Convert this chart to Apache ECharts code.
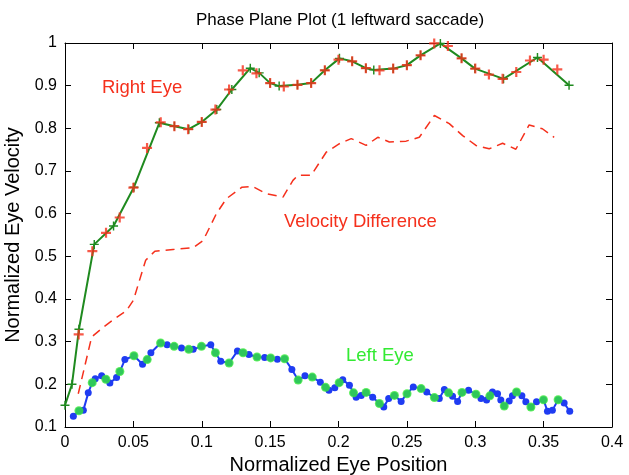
<!DOCTYPE html>
<html>
<head>
<meta charset="utf-8">
<script src="https://cdn.jsdelivr.net/npm/echarts@6/dist/echarts.min.js"></script>
<style>
  html, body { margin: 0; padding: 0; background: #fff; }
  #chart { width: 629px; height: 475px; }
</style>
</head>
<body>
<div id="chart"></div>
<script>
// Tick labels for both axes
const xTickLabels = ['0', '0.05', '0.1', '0.15', '0.2', '0.25', '0.3', '0.35', '0.4'];
const yTickLabels = ['0.1', '0.2', '0.3', '0.4', '0.5', '0.6', '0.7', '0.8', '0.9', '1'];

// Right eye: fused trace (green line with + markers), [position, velocity]
const rightEyeLine = [
  [0, 0.151], [0.0051, 0.200], [0.0102, 0.329], [0.0214, 0.528], [0.0355, 0.571],
  [0.0504, 0.662], [0.069, 0.813], [0.080, 0.805], [0.0905, 0.798], [0.100, 0.815],
  [0.111, 0.844], [0.122, 0.891], [0.1355, 0.941], [0.142, 0.930], [0.150, 0.906],
  [0.1566, 0.899], [0.170, 0.902], [0.180, 0.906], [0.190, 0.936], [0.2007, 0.964],
  [0.210, 0.957], [0.220, 0.941], [0.2258, 0.937], [0.240, 0.940], [0.250, 0.948],
  [0.260, 0.971], [0.2745, 0.999], [0.290, 0.964], [0.2998, 0.940], [0.3207, 0.916],
  [0.3455, 0.966], [0.3686, 0.901]
];

// Right eye samples (red + markers)
const rightEyeX = [
  0.01, 0.02, 0.03, 0.04, 0.05, 0.06, 0.07, 0.08, 0.09, 0.10, 0.11, 0.12,
  0.13, 0.14, 0.15, 0.16, 0.17, 0.18, 0.19, 0.20, 0.21, 0.22, 0.23, 0.24,
  0.25, 0.26, 0.27, 0.28, 0.29, 0.30, 0.31, 0.32, 0.33, 0.34, 0.35, 0.36
];
const rightEyeY = [
  0.317, 0.512, 0.555, 0.591, 0.661, 0.754, 0.814, 0.805, 0.798, 0.815, 0.844, 0.891,
  0.936, 0.929, 0.906, 0.898, 0.902, 0.906, 0.936, 0.961, 0.957, 0.941, 0.936, 0.940,
  0.948, 0.971, 0.999, 0.993, 0.964, 0.940, 0.926, 0.916, 0.932, 0.959, 0.961, 0.938
];

// Velocity difference (dashed red)
const velocityDiff = [
  [0.0097, 0.178], [0.0195, 0.311], [0.028, 0.334], [0.0365, 0.354], [0.045, 0.373],
  [0.050, 0.397], [0.059, 0.491], [0.0657, 0.512], [0.079, 0.516], [0.0937, 0.520],
  [0.101, 0.537], [0.1107, 0.600], [0.118, 0.635], [0.1294, 0.662], [0.137, 0.664],
  [0.1472, 0.647], [0.1594, 0.639], [0.1667, 0.678], [0.1703, 0.690], [0.180, 0.690],
  [0.191, 0.744], [0.2007, 0.764], [0.2093, 0.776], [0.2202, 0.760], [0.2287, 0.779],
  [0.2372, 0.768], [0.2494, 0.770], [0.2591, 0.779], [0.2701, 0.830], [0.281, 0.811],
  [0.2908, 0.783], [0.3005, 0.760], [0.3102, 0.752], [0.320, 0.765], [0.3297, 0.751],
  [0.3394, 0.808], [0.3491, 0.799], [0.3577, 0.779]
];

// Left eye trace (blue line with markers)
const leftEyeLine = [
  [0.0061, 0.125], [0.0102, 0.138], [0.0134, 0.139], [0.017, 0.180], [0.0199, 0.204],
  [0.0221, 0.213], [0.0268, 0.220], [0.0299, 0.212], [0.0328, 0.203], [0.0377, 0.216],
  [0.0401, 0.230], [0.0438, 0.258], [0.0504, 0.267], [0.0567, 0.247], [0.0601, 0.258],
  [0.0628, 0.274], [0.0699, 0.297], [0.0747, 0.293], [0.0798, 0.289], [0.0852, 0.285],
  [0.0905, 0.282], [0.0937, 0.282], [0.0998, 0.289], [0.1066, 0.293], [0.110, 0.274],
  [0.1139, 0.254], [0.120, 0.250], [0.1261, 0.278], [0.1302, 0.274], [0.1345, 0.270],
  [0.1404, 0.264], [0.146, 0.263], [0.1504, 0.262], [0.1553, 0.259], [0.1606, 0.260],
  [0.1659, 0.235], [0.1705, 0.210], [0.1755, 0.220], [0.1808, 0.217], [0.1867, 0.205],
  [0.1905, 0.193], [0.193, 0.186], [0.1973, 0.192], [0.2005, 0.204], [0.2031, 0.211],
  [0.208, 0.198], [0.211, 0.180], [0.2129, 0.170], [0.2166, 0.174], [0.2202, 0.181],
  [0.225, 0.170], [0.2299, 0.155], [0.2331, 0.147], [0.2367, 0.167], [0.2409, 0.174],
  [0.2458, 0.160], [0.2501, 0.178], [0.2547, 0.194], [0.2604, 0.190], [0.2645, 0.182],
  [0.2701, 0.169], [0.2737, 0.167], [0.2774, 0.188], [0.2805, 0.180], [0.2834, 0.172],
  [0.2871, 0.160], [0.2903, 0.181], [0.2951, 0.186], [0.3005, 0.177], [0.3042, 0.167],
  [0.3083, 0.163], [0.3107, 0.173], [0.3126, 0.182], [0.3163, 0.178], [0.3187, 0.163],
  [0.3212, 0.149], [0.3248, 0.161], [0.3272, 0.173], [0.3302, 0.182], [0.3341, 0.173],
  [0.337, 0.159], [0.3407, 0.147], [0.3448, 0.159], [0.3499, 0.164], [0.3528, 0.137],
  [0.3564, 0.139], [0.3606, 0.164], [0.365, 0.156], [0.3691, 0.137]
];

// Left eye samples highlighted in green (every 0.01 of position)
const leftEyeSamples = [
  [0.0102, 0.138], [0.0199, 0.204], [0.0299, 0.212], [0.0401, 0.230], [0.0504, 0.267],
  [0.0601, 0.258], [0.0699, 0.297], [0.0798, 0.289], [0.0905, 0.282], [0.0998, 0.289],
  [0.110, 0.274], [0.120, 0.250], [0.1302, 0.274], [0.1404, 0.264], [0.1504, 0.262],
  [0.1606, 0.260], [0.1705, 0.210], [0.1808, 0.217], [0.1905, 0.193], [0.2005, 0.204],
  [0.211, 0.180], [0.2202, 0.181], [0.2299, 0.155], [0.2409, 0.174], [0.2501, 0.178],
  [0.2604, 0.190], [0.2701, 0.169], [0.2805, 0.180], [0.2903, 0.181], [0.3005, 0.177],
  [0.3107, 0.173], [0.3212, 0.149], [0.3302, 0.182], [0.3407, 0.147], [0.3499, 0.164],
  [0.3606, 0.164]
];

const FONT = '"Liberation Sans", Arial, Helvetica, sans-serif';
const RED = '#f5301c';
const DARKGREEN = '#1f8a1f';
const LIGHTGREEN = '#33ea33';
const BLUE = '#1f3cf2';

const PLUS_THICK = 'path://M0,3.9H10V6.1H0Z M3.9,0H6.1V10H3.9Z';
const PLUS_THIN = 'path://M0,4.2H10V5.8H0Z M4.2,0H5.8V10H4.2Z';

const chart = echarts.init(document.getElementById('chart'), null, { renderer: 'canvas' });

const axisLine = { show: true, onZero: false, lineStyle: { color: '#000', width: 1 } };
const tickIn = { show: true, inside: true, length: 6, lineStyle: { color: '#000', width: 1 } };

chart.setOption({
  animation: false,
  backgroundColor: '#fff',
  grid: { left: 65, right: 17, top: 43, bottom: 48, containLabel: false, outerBoundsMode: 'none' },
  graphic: [
    { type: 'text', x: 340, y: 20, style: { text: 'Phase Plane Plot (1 leftward saccade)', font: '17px ' + FONT, fill: '#000', textAlign: 'center', textVerticalAlign: 'middle' } },
    { type: 'text', x: 102, y: 88, style: { text: 'Right Eye', font: '18.5px ' + FONT, fill: RED, textAlign: 'left', textVerticalAlign: 'middle' } },
    { type: 'text', x: 284, y: 222, style: { text: 'Velocity Difference', font: '18.5px ' + FONT, fill: RED, textAlign: 'left', textVerticalAlign: 'middle' } },
    { type: 'text', x: 346, y: 356, style: { text: 'Left Eye', font: '18.5px ' + FONT, fill: LIGHTGREEN, textAlign: 'left', textVerticalAlign: 'middle' } }
  ],
  xAxis: [
    {
      type: 'value', min: 0, max: 0.4, interval: 0.05, position: 'bottom',
      name: 'Normalized Eye Position', nameLocation: 'middle', nameGap: 23,
      nameTextStyle: { fontFamily: FONT, fontSize: 20, color: '#000' },
      axisLine: axisLine, axisTick: tickIn,
      axisLabel: { margin: 8, color: '#000', fontFamily: FONT, fontSize: 16,
        formatter: v => xTickLabels[Math.round(v / 0.05)] },
      splitLine: { show: false }
    },
    {
      type: 'value', min: 0, max: 0.4, interval: 0.05, position: 'top',
      axisLine: axisLine, axisTick: tickIn, axisLabel: { show: false }, splitLine: { show: false }
    }
  ],
  yAxis: [
    {
      type: 'value', min: 0.1, max: 1, interval: 0.1, position: 'left',
      name: 'Normalized Eye Velocity', nameLocation: 'middle', nameGap: 37,
      nameTextStyle: { fontFamily: FONT, fontSize: 20, color: '#000' },
      axisLine: axisLine, axisTick: tickIn,
      axisLabel: { margin: 8, color: '#000', fontFamily: FONT, fontSize: 16,
        formatter: v => yTickLabels[Math.round(v / 0.1) - 1] },
      splitLine: { show: false }
    },
    {
      type: 'value', min: 0.1, max: 1, interval: 0.1, position: 'right',
      axisLine: axisLine, axisTick: tickIn, axisLabel: { show: false }, splitLine: { show: false }
    }
  ],
  series: [
    {
      name: 'Velocity Difference', type: 'line', data: velocityDiff,
      showSymbol: false, symbol: 'none',
      lineStyle: { color: RED, width: 1.5, type: [9, 6] }, z: 2
    },
    {
      name: 'Left Eye', type: 'line', data: leftEyeLine,
      symbol: 'circle', symbolSize: 7,
      itemStyle: { color: BLUE }, lineStyle: { color: BLUE, width: 2 }, z: 3
    },
    {
      name: 'Left Eye samples', type: 'scatter', data: leftEyeSamples,
      symbol: 'circle', symbolSize: 9,
      itemStyle: { color: LIGHTGREEN }, z: 4
    },
    {
      name: 'Right Eye', type: 'line', data: rightEyeLine,
      symbol: PLUS_THIN, symbolSize: 9, symbolKeepAspect: true,
      itemStyle: { color: DARKGREEN }, lineStyle: { color: DARKGREEN, width: 2 }, z: 5
    },
    {
      name: 'Right Eye samples', type: 'scatter',
      data: rightEyeX.map((x, i) => [x, rightEyeY[i]]),
      symbol: PLUS_THICK, symbolSize: 10, symbolKeepAspect: true,
      itemStyle: { color: RED }, z: 6
    }
  ]
});
</script>
</body>
</html>
